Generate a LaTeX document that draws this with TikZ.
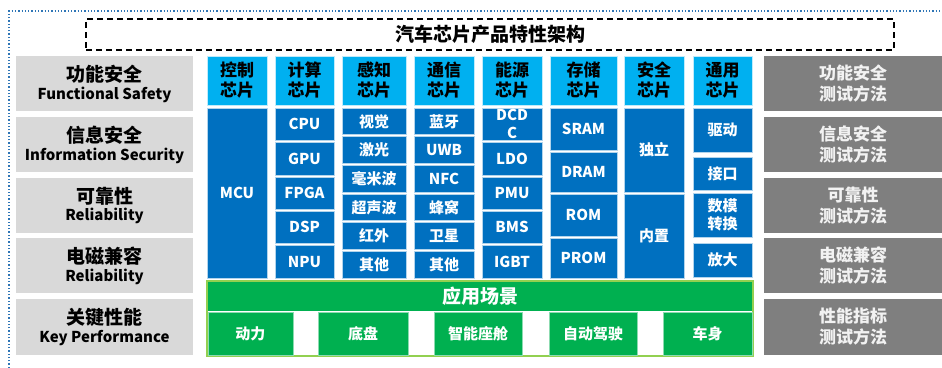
\documentclass[tikz,border=0pt]{standalone}
\usepackage{fontspec}
\setmainfont{Noto Sans CJK SC}
\definecolor{lblue}{HTML}{00B0F0}
\definecolor{dblue}{HTML}{0070C0}
\definecolor{lgray}{HTML}{D9D9D9}
\definecolor{dgray}{HTML}{7F7F7F}
\definecolor{gtext}{HTML}{F2F2F2}
\definecolor{grn}{HTML}{00B050}
\definecolor{lgrn}{HTML}{92D050}
\definecolor{frameblue}{HTML}{2E75B6}
\newcommand\bx[7]{\node[#6, minimum width={(#4)-(#2)}, minimum height={(#5)-(#3)}] (#1) at ({((#2)+(#4))/2},{((#3)+(#5))/2}) {#7};}
\begin{document}
\begin{tikzpicture}[x=1pt,y=-1pt,
  box/.style={inner sep=0pt, outer sep=0pt, align=center},
  hdr/.style={box, fill=lblue, draw=white!75!lblue, line width=0.5pt, text=black, font=\bfseries\fontsize{17}{20}\selectfont},
  dk/.style={box, fill=dblue, draw=white!70!dblue, line width=0.5pt, text=white, font=\bfseries\fontsize{15}{18}\selectfont},
  lg/.style={box, fill=lgray, text=black},
  rg/.style={box, fill=dgray, text=gtext, font=\bfseries\fontsize{17}{21}\selectfont},
  gb/.style={box, fill=grn, text=white, font=\bfseries\fontsize{15}{18}\selectfont},
  gsub/.style={gb, draw=white!55!grn, line width=0.5pt},
  title/.style={box, draw=black, dashed, dash pattern=on 6pt off 4pt, line width=1.4pt, font=\bfseries\fontsize{19}{22}\selectfont},
  frame/.style={draw=frameblue, dotted, line width=1.3pt}
]
\useasboundingbox (0,0) rectangle (942,367);
\fill[white] (0,0) rectangle (942,367);
% outer dotted frame
\coordinate (fa) at (9,368);
\coordinate (fb) at (9,11);
\coordinate (fc) at (943,11);
\draw[frame] (fa) -- (fb) -- (fc);
% title
\bx{title}{86}{19}{894}{50}{title}{汽车芯片产品特性架构}
% left gray
\newcommand\lt[2]{{\bfseries\fontsize{19}{19}\selectfont #1}\\[2.5pt]{\bfseries\fontsize{15}{17}\selectfont #2}}
\bx{l1}{16}{56}{193}{111}{lg}{\lt{功能安全}{Functional Safety}}
\bx{l2}{16}{117}{193}{172}{lg}{\lt{信息安全}{Information Security}}
\bx{l3}{16}{178}{193}{233}{lg}{\lt{可靠性}{Reliability}}
\bx{l4}{16}{238}{193}{293}{lg}{\lt{电磁兼容}{Reliability}}
\bx{l5}{16}{299}{193}{355}{lg}{\lt{关键性能}{Key Performance}}
% right gray
\bx{r1}{764}{56}{942}{111}{rg}{功能安全\\测试方法}
\bx{r2}{764}{117}{942}{172}{rg}{信息安全\\测试方法}
\bx{r3}{764}{178}{942}{233}{rg}{可靠性\\测试方法}
\bx{r4}{764}{238}{942}{293}{rg}{电磁兼容\\测试方法}
\bx{r5}{764}{299}{942}{355}{rg}{性能指标\\测试方法}
% headers
\bx{h1}{207}{56}{267}{105}{hdr}{控制\\芯片}
\bx{h2}{275}{56}{334}{105}{hdr}{计算\\芯片}
\bx{h3}{342}{56}{406}{105}{hdr}{感知\\芯片}
\bx{h4}{414}{56}{474}{105}{hdr}{通信\\芯片}
\bx{h5}{482}{56}{542}{105}{hdr}{能源\\芯片}
\bx{h6}{550}{56}{617}{105}{hdr}{存储\\芯片}
\bx{h7}{624}{56}{684}{105}{hdr}{安全\\芯片}
\bx{h8}{693}{56}{752}{105}{hdr}{通用\\芯片}
% col1
\bx{mcu}{207}{108}{267}{278}{dk}{MCU}
% col2
\bx{cpu}{275}{108}{334}{140.4}{dk}{CPU}
\bx{gpu}{275}{142.4}{334}{174.8}{dk}{GPU}
\bx{fpga}{275}{176.8}{334}{209.2}{dk}{FPGA}
\bx{dsp}{275}{211.2}{334}{243.6}{dk}{DSP}
\bx{npu}{275}{245.6}{334}{278}{dk}{NPU}
% col3
\bx{s1}{342}{108}{406}{134.7}{dk}{视觉}
\bx{s2}{342}{136.7}{406}{163.3}{dk}{激光}
\bx{s3}{342}{165.3}{406}{192}{dk}{毫米波}
\bx{s4}{342}{194}{406}{220.7}{dk}{超声波}
\bx{s5}{342}{222.7}{406}{249.3}{dk}{红外}
\bx{s6}{342}{251.3}{406}{278}{dk}{其他}
% col4
\bx{t1}{414}{108}{474}{134.7}{dk}{蓝牙}
\bx{t2}{414}{136.7}{474}{163.3}{dk}{UWB}
\bx{t3}{414}{165.3}{474}{192}{dk}{NFC}
\bx{t4}{414}{194}{474}{220.7}{dk}{蜂窝}
\bx{t5}{414}{222.7}{474}{249.3}{dk}{卫星}
\bx{t6}{414}{251.3}{474}{278}{dk}{其他}
% col5
\bx{e1}{482}{108}{542}{140.4}{dk}{DCD\\C}
\bx{e2}{482}{142.4}{542}{174.8}{dk}{LDO}
\bx{e3}{482}{176.8}{542}{209.2}{dk}{PMU}
\bx{e4}{482}{211.2}{542}{243.6}{dk}{BMS}
\bx{e5}{482}{245.6}{542}{278}{dk}{IGBT}
% col6
\bx{m1}{550}{108}{617}{150}{dk}{SRAM}
\bx{m2}{550}{152}{617}{192}{dk}{DRAM}
\bx{m3}{550}{194}{617}{236}{dk}{ROM}
\bx{m4}{550}{238}{617}{278}{dk}{PROM}
% col7
\bx{a1}{624}{108}{684}{192}{dk}{独立}
\bx{a2}{624}{194}{684}{278}{dk}{内置}
% col8
\bx{g1}{693}{108}{752}{152}{dk}{驱动}
\bx{g2}{693}{157}{752}{190}{dk}{接口}
\bx{g3}{693}{193}{752}{237}{dk}{数模\\转换}
\bx{g4}{693}{243}{752}{277}{dk}{放大}
% green application area
\bx{app}{207}{281}{753}{356}{box, fill=white, draw=lgrn, line width=1.5pt}{}
\bx{apph}{207.75}{281.75}{752.25}{310.5}{gb, font=\bfseries\fontsize{19}{22}\selectfont}{应用场景}
\bx{p1}{207.75}{312}{293}{355.25}{gsub}{动力}
\bx{p2}{318}{312}{408}{355.25}{gsub}{底盘}
\bx{p3}{434}{312}{522}{355.25}{gsub}{智能座舱}
\bx{p4}{549}{312}{637}{355.25}{gsub}{自动驾驶}
\bx{p5}{663}{312}{752.25}{355.25}{gsub}{车身}
\end{tikzpicture}
\end{document}
